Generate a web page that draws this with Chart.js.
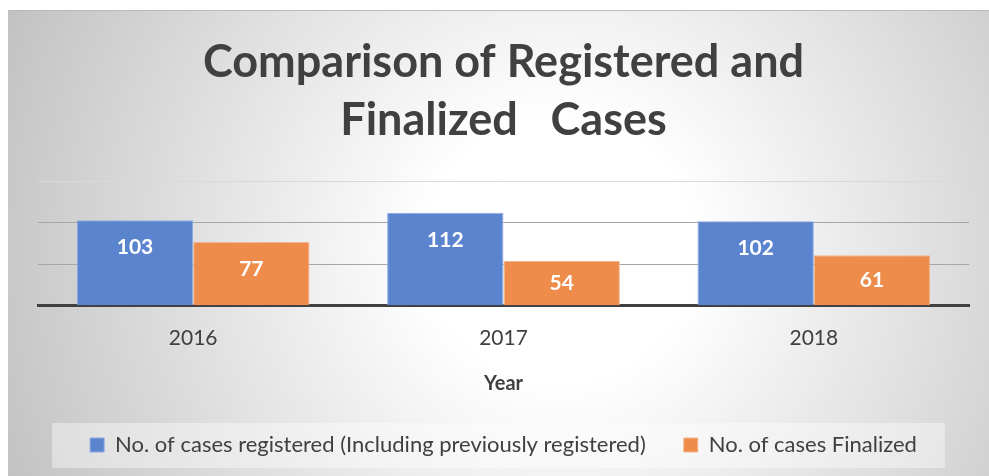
<!DOCTYPE html>
<html><head><meta charset="utf-8">
<script src="https://cdn.jsdelivr.net/npm/chart.js@4/dist/chart.umd.min.js"></script>
<style>html,body{margin:0;padding:0;background:#fff;} #wrap{width:989px;height:476px;position:relative;}</style>
</head><body><div id="wrap"><canvas id="c" width="989" height="476"></canvas></div>
<script>
const titleLines = ['Comparison of Registered and', 'Finalized   Cases'];
const years = ['2016', '2017', '2018'];
const registered = [103, 112, 102];
const finalized = [77, 54, 61];
const seriesNames = ['No. of cases registered (Including previously registered)', 'No. of cases Finalized'];
const xAxisTitle = 'Year';
const yMin = 0, yMax = 150, yStep = 50;

const bgPlugin = {
  id: 'bg',
  beforeDraw(chart) {
    const ctx = chart.ctx;
    ctx.save();
    ctx.fillStyle = '#ffffff';
    ctx.fillRect(0, 0, chart.width, chart.height);
    const g = ctx.createRadialGradient(560, 250, 0, 560, 250, 600);
    g.addColorStop(0, '#ffffff');
    g.addColorStop(0.22, '#ffffff');
    g.addColorStop(1, '#c2c2c2');
    ctx.fillStyle = g;
    ctx.fillRect(8, 10, chart.width - 8, chart.height - 10);
    ctx.fillStyle = '#bababa';
    ctx.fillRect(8, 10, chart.width - 8, 1);
    const lg = chart.legend;
    if (lg && lg.legendHitBoxes && lg.legendHitBoxes.length) {
      const hb = lg.legendHitBoxes;
      const last = hb[hb.length - 1];
      const l = hb[0].left - 38;
      const r = last.left + last.width + 28;
      const mid = hb[0].top + hb[0].height / 2;
      ctx.fillStyle = 'rgba(255,255,255,0.4)';
      ctx.fillRect(l, mid - 22, r - l, 45);
    }
    ctx.restore();
  }
};

const labelPlugin = {
  id: 'barLabels',
  afterDatasetsDraw(chart) {
    const ctx = chart.ctx;
    ctx.save();
    ctx.font = 'bold 21px Lato';
    ctx.fillStyle = '#ffffff';
    ctx.textAlign = 'center';
    ctx.textBaseline = 'middle';
    chart.data.datasets.forEach((ds, di) => {
      chart.getDatasetMeta(di).data.forEach((bar, i) => {
        const h = bar.base - bar.y;
        const y = bar.y + Math.min(27, h / 2);
        ctx.fillText(String(ds.data[i]), bar.x, y);
      });
    });
    ctx.restore();
  }
};

new Chart(document.getElementById('c'), {
  type: 'bar',
  data: {
    labels: years,
    datasets: [
      { label: seriesNames[0], data: registered, backgroundColor: '#5b84cf', borderColor: '#8eaae2', borderWidth: 1 },
      { label: seriesNames[1], data: finalized, backgroundColor: '#ee8c4b', borderColor: '#f5b58c', borderWidth: 1 }
    ]
  },
  options: {
    responsive: false,
    animation: false,
    events: [],
    layout: { padding: { left: 38, right: 20, top: 10, bottom: 10 } },
    datasets: { bar: { categoryPercentage: 0.75, barPercentage: 1.0 } },
    plugins: {
      title: {
        display: true,
        text: titleLines,
        color: '#404040',
        font: { family: 'Lato', weight: 'bold', size: 45, lineHeight: 58 / 45 },
        padding: { top: 23, bottom: 32.3 }
      },
      legend: {
        position: 'bottom',
        labels: {
          color: '#404040',
          font: { family: 'Lato', size: 22 },
          boxWidth: 14, boxHeight: 14,
          padding: 38
        }
      },
      tooltip: { enabled: false }
    },
    scales: {
      x: {
        grid: { display: false, drawTicks: false },
        border: { display: true, color: '#404040', width: 3 },
        ticks: { color: '#404040', font: { family: 'Lato', size: 21 }, padding: 20 },
        title: { display: true, text: xAxisTitle, color: '#404040', font: { family: 'Lato', weight: 'bold', size: 20 }, padding: { top: 1, bottom: 0 } }
      },
      y: {
        min: yMin, max: yMax,
        ticks: { display: false, stepSize: yStep },
        border: { display: false },
        grid: {
          drawTicks: false,
          color: (c) => c.tick.value === 0 ? 'rgba(0,0,0,0)' : (c.tick.value === yMax ? '#d9d9d9' : '#a6a6a6'),
          lineWidth: 1
        }
      }
    }
  },
  plugins: [bgPlugin, labelPlugin]
});
</script></body></html>
